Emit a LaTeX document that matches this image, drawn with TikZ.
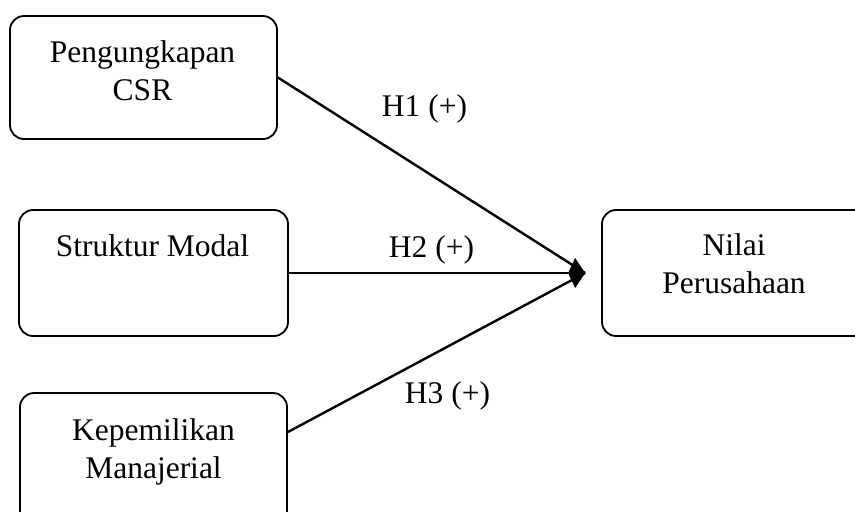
\documentclass[tikz,border=0pt]{standalone}
\usepackage{fontspec}
\setmainfont{Liberation Serif}
\usetikzlibrary{arrows.meta}
\tikzset{
  var/.style = {draw, line width=0.9pt, rectangle, rounded corners=7pt, inner sep=0pt},
  txt/.style = {inner sep=0pt, align=center, font=\fontsize{15.75}{18.75}\selectfont},
  link/.style = {line width=1.2pt},
  arrow/.style = {line width=1.2pt, -{Kite[length=8.5pt, width=15pt, inset=3.5pt]}}
}
\begin{document}
\begin{tikzpicture}[x=0.5pt, y=-0.5pt]
            \useasboundingbox (0,0) rectangle (855,511);
            \clip (0,0) rectangle (855,511);
            \node[var, minimum width=133.5pt, minimum height=61.5pt] (csr) at (143.5,77.5) {};
            \node[var, minimum width=134.5pt, minimum height=63pt] (sm) at (153.5,273) {};
            \node[var, minimum width=133.5pt, minimum height=66pt] (km) at (153.5,459) {};
            \node[var, minimum width=134pt, minimum height=63pt] (nl) at (736,273) {};
            \node[txt, anchor=north] (csrT) at (142.5,40.5) {Pengungkapan\\CSR};
            \node[txt, anchor=base] (smT) at (152.5,256) {Struktur Modal};
            \node[txt, anchor=north] (kmT) at (153.5,418.5) {Kepemilikan\\Manajerial};
            \node[txt, anchor=north] (nlT) at (734,233.5) {Nilai\\Perusahaan};
            \coordinate (tip) at ([xshift=-8pt]nl.west);
            \coordinate (kmOut) at ([yshift=13.5pt]km.east);
            \draw[link] (csr.east) -- (tip);
            \draw[link] (kmOut) -- (tip);
            \draw[arrow] (sm.east) -- (tip);
            \node[txt, anchor=base] (h1) at (424.5,116) {H1 (+)};
            \node[txt, anchor=base] (h2) at (431.5,257) {H2 (+)};
            \node[txt, anchor=base] (h3) at (447.5,403) {H3 (+)};
        \end{tikzpicture}
\end{document}
